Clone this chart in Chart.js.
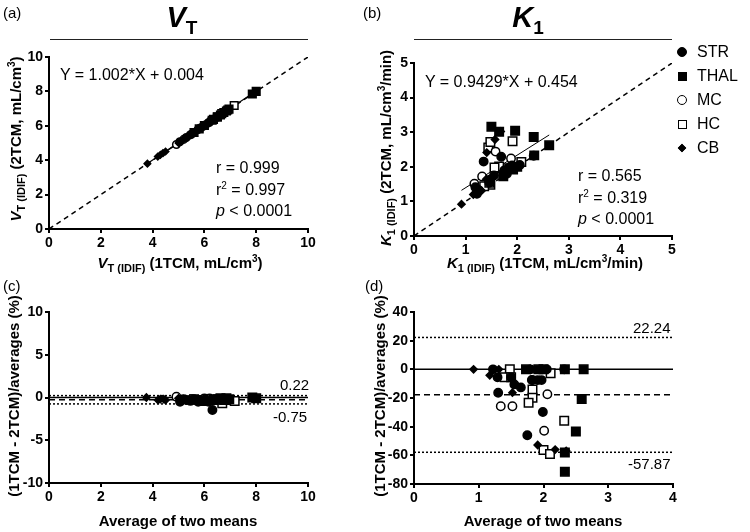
<!DOCTYPE html>
<html>
<head>
<meta charset="utf-8">
<script src="https://cdn.jsdelivr.net/npm/chart.js@4.4.0/dist/chart.umd.min.js"></script>
<style>
body { margin: 0; background: #fff; }
#wrap { position: relative; width: 750px; height: 532px; overflow: hidden; font-family: "Liberation Sans", Arial, sans-serif; color: #000; }
canvas { position: absolute; }
.t { position: absolute; white-space: nowrap; line-height: 1; }
.rot { transform: translate(-50%, -50%) rotate(-90deg); }
.ctr { transform: translate(-50%, -50%); }
.b { font-weight: bold; }
.lbl { font-size: 15px; }
.ax { font-size: 15px; font-weight: bold; }
.ax sub { font-size: 11px; vertical-align: -4px; line-height: 0; }
.ax sup, .lbl sup { font-size: 10px; vertical-align: 6px; line-height: 0; }
.hr { position: absolute; height: 1px; background: #222; }
.leg { position: absolute; font-size: 16px; }
.mk { position: absolute; box-sizing: border-box; }
</style>
</head>
<body>
<div id="wrap">
  <canvas id="ca" width="375" height="270" style="left:0;top:0"></canvas>
  <canvas id="cb" width="375" height="270" style="left:375px;top:0"></canvas>
  <canvas id="cc" width="375" height="262" style="left:0;top:270px"></canvas>
  <canvas id="cd" width="375" height="262" style="left:375px;top:270px"></canvas>

  <div class="t lbl" style="left:3px;top:5px">(a)</div>
  <div class="t lbl" style="left:363px;top:5px">(b)</div>
  <div class="t lbl" style="left:3px;top:278px">(c)</div>
  <div class="t lbl" style="left:365px;top:278px">(d)</div>

  <div class="t ctr b" style="left:182px;top:20px;font-size:29px"><i>V</i><span style="font-size:19px;vertical-align:-7px">T</span></div>
  <div class="hr" style="left:50px;top:39px;width:258px"></div>
  <div class="t ctr b" style="left:528px;top:20px;font-size:29px"><i>K</i><span style="font-size:19px;vertical-align:-7px">1</span></div>
  <div class="hr" style="left:414px;top:39px;width:258px"></div>

  <div class="t rot ax" style="left:15px;top:139px"><i>V</i><sub>T (IDIF)</sub> (2TCM, mL/cm<sup>3</sup>)</div>
  <div class="t ctr ax" style="left:180px;top:262px"><i>V</i><sub>T (IDIF)</sub> (1TCM, mL/cm<sup>3</sup>)</div>
  <div class="t rot ax" style="left:385px;top:148px"><i>K</i><sub>1 (IDIF)</sub> (2TCM, mL/cm<sup>3</sup>/min)</div>
  <div class="t ctr ax" style="left:545px;top:262px"><i>K</i><sub>1 (IDIF)</sub> (1TCM, mL/cm<sup>3</sup>/min)</div>
  <div class="t rot ax" style="left:13px;top:396px">(1TCM - 2TCM)/averages (%)</div>
  <div class="t ctr ax" style="left:178px;top:520px">Average of two means</div>
  <div class="t rot ax" style="left:379px;top:396px">(1TCM - 2TCM)/averages (%)</div>
  <div class="t ctr ax" style="left:543px;top:520px">Average of two means</div>

  <div class="t lbl" style="left:60px;top:67px;font-size:16px">Y = 1.002*X + 0.004</div>
  <div class="t lbl" style="left:216px;top:160px;font-size:16px">r = 0.999</div>
  <div class="t lbl" style="left:216px;top:182px;font-size:16px">r<sup>2</sup> = 0.997</div>
  <div class="t lbl" style="left:216px;top:203px;font-size:16px"><i>p</i> &lt; 0.0001</div>

  <div class="t lbl" style="left:425px;top:74px;font-size:16px">Y = 0.9429*X + 0.454</div>
  <div class="t lbl" style="left:578px;top:168px;font-size:16px">r = 0.565</div>
  <div class="t lbl" style="left:578px;top:190px;font-size:16px">r<sup>2</sup> = 0.319</div>
  <div class="t lbl" style="left:578px;top:211px;font-size:16px"><i>p</i> &lt; 0.0001</div>

  <div class="t lbl" style="left:280px;top:377px">0.22</div>
  <div class="t lbl" style="left:273px;top:409px">-0.75</div>
  <div class="t lbl" style="left:633px;top:320px">22.24</div>
  <div class="t lbl" style="left:628px;top:456px">-57.87</div>

  <div id="legend"></div>
</div>
<script>
// region names (legend)
const regions = ['STR', 'THAL', 'MC', 'HC', 'CB'];

// (a) VT: 1TCM (x) vs 2TCM (y)
const vtStrX = [5.05, 5.3, 5.45, 5.6, 5.75, 5.85, 5.95, 6.05, 6.15, 6.27, 6.4, 6.55];
const vtStrY = [5.07, 5.32, 5.47, 5.61, 5.78, 5.87, 5.97, 6.06, 6.18, 6.35, 6.41, 6.56];
const vtThalX = [6.35, 6.5, 6.62, 6.75, 6.85, 6.95, 7.85, 8.0];
const vtThalY = [6.37, 6.51, 6.63, 6.77, 6.86, 6.97, 7.85, 8.0];
const vtMcX = [4.92, 5.2, 5.5, 5.8, 6.0, 6.2, 6.5, 6.9];
const vtMcY = [4.91, 5.21, 5.51, 5.82, 6.01, 6.21, 6.51, 6.92];
const vtHcX = [5.6, 5.8, 6.0, 6.3, 6.5, 6.67, 6.9, 7.15];
const vtHcY = [5.61, 5.82, 6.02, 6.32, 6.52, 6.71, 6.92, 7.18];
const vtCbX = [3.8, 4.2, 4.3, 4.4, 4.5, 5.0, 5.1, 5.2];
const vtCbY = [3.8, 4.21, 4.31, 4.41, 4.51, 5.0, 5.11, 5.21];
const vtFitX = [3.8, 8.0];
const vtFitY = [3.81, 8.02];

// (b) K1: 1TCM (x) vs 2TCM (y)
const k1StrX = [1.22, 1.25, 1.19, 1.46, 1.47, 1.55, 1.35, 1.80, 1.76, 1.84, 1.90, 1.69, 2.32, 2.05];
const k1StrY = [1.22, 1.33, 1.41, 1.54, 1.63, 1.75, 2.15, 1.80, 1.90, 1.98, 2.04, 2.29, 2.32, 2.05];
const k1ThalX = [1.73, 1.92, 2.0, 2.62, 2.32, 1.96, 1.65, 1.50, 2.33];
const k1ThalY = [1.73, 1.92, 2.0, 2.62, 2.86, 3.04, 3.01, 3.16, 2.33];
const k1McX = [1.17, 1.32, 1.75, 1.88, 1.58];
const k1McY = [1.51, 1.72, 1.89, 2.24, 2.44];
const k1HcX = [1.48, 1.36, 1.46, 1.70, 1.65, 1.56, 2.08, 1.91, 1.44, 1.48];
const k1HcY = [1.48, 1.44, 1.54, 1.96, 2.01, 1.98, 2.14, 2.74, 2.56, 2.72];
const k1CbX = [0.92, 1.15, 1.40, 1.41, 1.57, 1.22, 1.31, 1.68];
const k1CbY = [0.92, 1.20, 1.64, 2.41, 2.79, 1.22, 1.31, 3.02];
const k1FitX = [0.92, 2.62];
const k1FitY = [1.32, 2.92];

// (c) VT Bland-Altman: average (x) vs % difference (y)
const baVtStrX = [5.06, 5.31, 5.46, 5.6, 5.76, 5.86, 5.96, 6.05, 6.16, 6.31, 6.4, 6.55];
const baVtStrY = [-0.5, -0.3, -0.4, -0.2, -0.5, -0.3, -0.4, -0.2, -0.5, -1.47, -0.3, -0.2];
const baVtThalX = [6.36, 6.5, 6.62, 6.76, 6.85, 6.96, 7.85, 8.0];
const baVtThalY = [-0.3, -0.2, -0.1, -0.3, -0.1, -0.2, 0, -0.1];
const baVtMcX = [4.92, 5.2, 5.5, 5.81, 6.0, 6.2, 6.5, 6.91];
const baVtMcY = [0.1, -0.2, -0.2, -0.3, -0.1, -0.1, -0.2, -0.3];
const baVtHcX = [5.6, 5.81, 6.01, 6.31, 6.51, 6.69, 6.91, 7.17];
const baVtHcY = [-0.2, -0.3, -0.4, -0.3, -0.2, -0.66, -0.3, -0.4];
const baVtCbX = [3.76, 4.21, 4.3, 4.43, 4.5, 5.0, 5.1, 5.2];
const baVtCbY = [0, -0.3, -0.2, -0.2, -0.3, -0.1, -0.2, -0.2];
const vtUpper = 0.22, vtLower = -0.75, vtMean = -0.27;

// (d) K1 Bland-Altman
const baK1StrX = [1.22, 1.29, 1.30, 1.50, 1.55, 1.65, 1.75, 1.80, 1.83, 1.91, 1.97, 1.99, 2.32, 2.05];
const baK1StrY = [0, -5.6, -16.3, -5.5, -10.5, -12.6, -46, 0, -7.5, -7.5, -7.5, -29.8, 0, 0];
const baK1ThalX = [1.73, 1.92, 2.0, 2.62, 2.59, 2.50, 2.33, 2.33, 2.33];
const baK1ThalY = [0, 0, 0, 0, -20.7, -43.3, -58, -71.4, 0];
const baK1McX = [1.34, 1.52, 1.82, 2.06, 2.01];
const baK1McY = [-25.8, -25.8, -7.4, -17.4, -42.8];
const baK1HcX = [1.48, 1.40, 1.50, 1.83, 1.83, 1.77, 2.11, 2.32, 2.0, 2.1];
const baK1HcY = [0, -5.6, -5.6, -14, -19.8, -23.3, -2.8, -35.8, -56.3, -59];
const baK1CbX = [0.92, 1.17, 1.52, 1.91, 2.18, 1.22, 1.31, 2.35];
const baK1CbY = [0, -4.2, -16.3, -52.8, -56, 0, 0, -57];
const k1Upper = 22.24, k1Lower = -57.87, k1Mean = -17.8;

const FONT = '"Liberation Sans", Arial, sans-serif';

// marker look per region
const styles = {
  STR:  { pointStyle: 'circle',  radius: 4.2, backgroundColor: '#000' },
  THAL: { pointStyle: 'rect',    radius: 6,   backgroundColor: '#000' },
  MC:   { pointStyle: 'circle',  radius: 4.2, backgroundColor: '#fff' },
  HC:   { pointStyle: 'rect',    radius: 6,   backgroundColor: '#fff' },
  CB:   { pointStyle: 'rectRot', radius: 3.6, backgroundColor: '#000' }
};

function pts(xs, ys) {
  return xs.map((x, i) => ({ x: x, y: ys[i] }));
}

function pointSet(name, xs, ys, scale) {
  const s = styles[name];
  return {
    label: name,
    data: pts(xs, ys),
    showLine: false,
    pointStyle: s.pointStyle,
    pointRadius: s.radius * scale,
    backgroundColor: s.backgroundColor,
    borderColor: '#000',
    borderWidth: 1.5
  };
}

function lineSet(xs, ys, dash, width) {
  return {
    data: pts(xs, ys),
    showLine: true,
    pointRadius: 0,
    borderColor: '#000',
    borderWidth: width,
    borderDash: dash
  };
}

function axis(min, max, step, fit) {
  return {
    type: 'linear',
    min: min,
    max: max,
    ticks: { stepSize: step, color: '#000', padding: 2, font: { family: FONT, size: 14, weight: 'bold' } },
    grid: { drawOnChartArea: false, drawTicks: true, tickLength: 4, color: '#000', lineWidth: 2 },
    border: { color: '#000', width: 2 },
    afterFit: fit
  };
}

function makeChart(id, datasets, xr, yr, yWidth, xHeight, pad) {
  return new Chart(document.getElementById(id), {
    type: 'scatter',
    data: { datasets: datasets },
    options: {
      responsive: false,
      animation: false,
      devicePixelRatio: 1,
      layout: { padding: pad },
      plugins: { legend: { display: false }, tooltip: { enabled: false } },
      scales: {
        x: axis(xr[0], xr[1], xr[2], s => { s.height = xHeight; }),
        y: axis(yr[0], yr[1], yr[2], s => { s.width = yWidth; })
      }
    }
  });
}

// the first dataset is drawn on top, so filled markers go first and lines last

// (a)
makeChart('ca', [
  pointSet('STR', vtStrX, vtStrY, 0.9),
  pointSet('THAL', vtThalX, vtThalY, 0.9),
  pointSet('CB', vtCbX, vtCbY, 0.9),
  pointSet('MC', vtMcX, vtMcY, 0.9),
  pointSet('HC', vtHcX, vtHcY, 0.9),
  lineSet(vtFitX, vtFitY, [], 1.2),
  lineSet([0, 10], [0, 10], [5, 4], 1.5)
], [0, 10, 2], [0, 10, 2], 49, 41, { top: 57, right: 67, left: 0, bottom: 0 });

// (b)
makeChart('cb', [
  pointSet('STR', k1StrX, k1StrY, 1),
  pointSet('THAL', k1ThalX, k1ThalY, 1),
  pointSet('CB', k1CbX, k1CbY, 1),
  pointSet('MC', k1McX, k1McY, 1),
  pointSet('HC', k1HcX, k1HcY, 1),
  lineSet(k1FitX, k1FitY, [], 1),
  lineSet([0, 5], [0, 5], [5, 4], 1.5)
], [0, 5, 1], [0, 5, 1], 39, 34, { top: 63, right: 78, left: 0, bottom: 0 });

// (c)
makeChart('cc', [
  pointSet('STR', baVtStrX, baVtStrY, 1),
  pointSet('THAL', baVtThalX, baVtThalY, 1),
  pointSet('CB', baVtCbX, baVtCbY, 1),
  pointSet('MC', baVtMcX, baVtMcY, 1),
  pointSet('HC', baVtHcX, baVtHcY, 1),
  lineSet([0, 10], [0, 0], [], 1.5),
  lineSet([0, 10], [vtMean, vtMean], [6, 4], 1.5),
  lineSet([0, 10], [vtUpper, vtUpper], [2, 2], 1.5),
  lineSet([0, 10], [vtLower, vtLower], [2, 2], 1.5)
], [0, 10, 2], [-10, 10, 5], 49, 49, { top: 42, right: 67, left: 0, bottom: 0 });

// (d)
makeChart('cd', [
  pointSet('STR', baK1StrX, baK1StrY, 1),
  pointSet('THAL', baK1ThalX, baK1ThalY, 1),
  pointSet('CB', baK1CbX, baK1CbY, 1),
  pointSet('MC', baK1McX, baK1McY, 1),
  pointSet('HC', baK1HcX, baK1HcY, 1),
  lineSet([0, 4], [0, 0], [], 1.5),
  lineSet([0, 4], [k1Mean, k1Mean], [6, 4], 1.5),
  lineSet([0, 4], [k1Upper, k1Upper], [2, 2], 1.5),
  lineSet([0, 4], [k1Lower, k1Lower], [2, 2], 1.5)
], [0, 4, 1], [-80, 40, 20], 39, 48, { top: 42, right: 77, left: 0, bottom: 0 });

// legend beside (b)
const legend = document.getElementById('legend');
regions.forEach((name, i) => {
  const y = 52 + i * 24;
  const s = styles[name];
  const mk = document.createElement('div');
  mk.className = 'mk';
  let size = 10;
  if (s.pointStyle === 'rect') size = 9;
  if (s.pointStyle === 'rectRot') size = 6;
  mk.style.width = size + 'px';
  mk.style.height = size + 'px';
  mk.style.left = (682 - size / 2) + 'px';
  mk.style.top = (y - size / 2) + 'px';
  mk.style.background = s.backgroundColor;
  mk.style.border = '1.5px solid #000';
  if (s.pointStyle === 'circle') mk.style.borderRadius = '50%';
  if (s.pointStyle === 'rectRot') mk.style.transform = 'rotate(45deg)';
  legend.appendChild(mk);
  const tx = document.createElement('div');
  tx.className = 't leg';
  tx.style.left = '697px';
  tx.style.top = (y - 8) + 'px';
  tx.textContent = name;
  legend.appendChild(tx);
});
</script>
</body>
</html>
